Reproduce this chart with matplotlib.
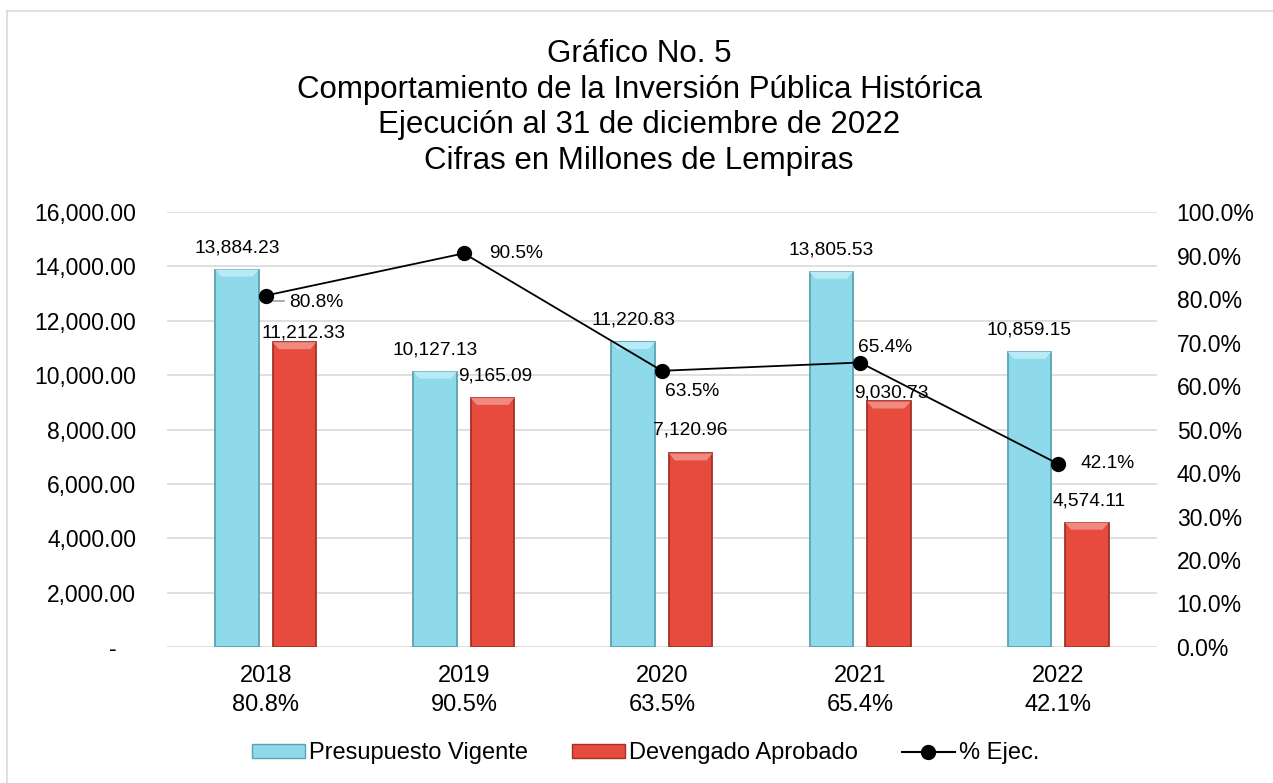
import matplotlib.pyplot as plt
import numpy as np
from matplotlib.lines import Line2D
from matplotlib.patches import Patch, Polygon

plt.rcParams['font.family'] = ['Liberation Sans', 'DejaVu Sans']

years = ['2018', '2019', '2020', '2021', '2022']
presupuesto = [13884.23, 10127.13, 11220.83, 13805.53, 10859.15]
devengado = [11212.33, 9165.09, 7120.96, 9030.73, 4574.11]
ejecucion = [0.808, 0.905, 0.635, 0.654, 0.421]

title = ('Gráfico No. 5\n'
         'Comportamiento de la Inversión Pública Histórica\n'
         'Ejecución al 31 de diciembre de 2022\n'
         'Cifras en Millones de Lempiras')

cyan = '#8ed9ea'
cyan_edge = '#5aa3b3'
cyan_light = '#b8ebf5'
red = '#e64b3e'
red_edge = '#a33127'
red_light = '#f08a80'


def money(v, pos=None):
    if v == 0:
        return '-   '
    return '{:,.2f}'.format(v)


def _draw_bars(ax, x, values, color, edge, light, px_x, px_y):
    bars = ax.bar(x, values, width=0.22, color=color, edgecolor=edge,
                  linewidth=1.3, zorder=3)
    # bevel cap on top of every bar, about 7 px deep
    for b in bars:
        x0, w, h = b.get_x(), b.get_width(), b.get_height()
        dx, dy = 6 * px_x, 7 * px_y
        cap = Polygon([(x0, h), (x0 + w, h), (x0 + w - dx, h - dy), (x0 + dx, h - dy)],
                      closed=True, facecolor=light, edgecolor='none', zorder=4)
        ax.add_patch(cap)
    return bars


fig = plt.figure(figsize=(12.73, 7.83), dpi=100)
ax = fig.add_axes([0.131, 0.1737, 0.778, 0.5555])
ax2 = ax.twinx()

x = np.arange(len(years))
ax.set_xlim(-0.5, len(years) - 0.5)
ax.set_ylim(0, 16000)
px_x = len(years) / (0.778 * 1273)
px_y = 16000 / (0.5555 * 783)
_draw_bars(ax, x - 0.145, presupuesto, cyan, cyan_edge, cyan_light, px_x, px_y)
_draw_bars(ax, x + 0.145, devengado, red, red_edge, red_light, px_x, px_y)

ax.set_yticks(np.arange(0, 16001, 2000))
ax.yaxis.set_major_formatter(plt.FuncFormatter(money))
ax.grid(axis='y', color='#d9d9d9', linewidth=1.2, zorder=0)
ax.set_axisbelow(True)
ax.set_xticks(x)
ax.set_xticklabels(['{}\n{:.1f}%'.format(y, p * 100)
                    for y, p in zip(years, ejecucion)],
                   fontsize=17, linespacing=1.4)
ax.tick_params(axis='y', labelsize=16.5, length=0, pad=22)
ax.tick_params(axis='x', length=0, pad=13)
for s in ax.spines.values():
    s.set_visible(False)

# value labels above bars (pixel offsets, Excel shifted a couple)
cyan_off = [22, 22, 22, 22, 22]
red_off = [9, 22, 23, 8, 22]
red_dx = [9, 3, 0, 3, 2]
for i in range(len(years)):
    ax.annotate('{:,.2f}'.format(presupuesto[i]), (x[i] - 0.145, presupuesto[i]),
                xytext=(0, cyan_off[i]), textcoords='offset pixels',
                ha='center', va='center', fontsize=13.8, zorder=5)
    ax.annotate('{:,.2f}'.format(devengado[i]), (x[i] + 0.145, devengado[i]),
                xytext=(red_dx[i], red_off[i]), textcoords='offset pixels',
                ha='center', va='center', fontsize=13.8, zorder=5)

ax2.set_ylim(0, 1)
ax2.set_yticks(np.arange(0, 1.01, 0.1))
ax2.yaxis.set_major_formatter(plt.FuncFormatter(lambda v, p: '{:.1f}%'.format(v * 100)))
ax2.tick_params(axis='y', labelsize=16.5, length=0, pad=14)
for s in ax2.spines.values():
    s.set_visible(False)
ax2.plot(x, ejecucion, color='black', linewidth=1.3, marker='o',
         markersize=10, zorder=6)

pct_off = [(23, -7), (25, 0), (3, -21), (-2, 15), (22, 0)]
for i, p in enumerate(ejecucion):
    ax2.annotate('{:.1f}%'.format(p * 100), (x[i], p),
                 xytext=pct_off[i], textcoords='offset pixels',
                 ha='left', va='center', fontsize=13.8, zorder=7)
ax2.plot([x[0] + 0.04, x[0] + 0.09], [ejecucion[0] - 0.012] * 2,
         color='#a6a6a6', linewidth=1.3)

fig.text(0.502, 0.863, title, ha='center', va='center', fontsize=22.5,
         linespacing=1.24)

handles = [Patch(facecolor=cyan, edgecolor=cyan_edge),
           Patch(facecolor=red, edgecolor=red_edge),
           Line2D([], [], color='black', marker='o', markersize=10)]
fig.legend(handles, ['Presupuesto Vigente', 'Devengado Aprobado', '% Ejec.'],
           loc='center', bbox_to_anchor=(0.507, 0.038), ncol=3, frameon=False,
           fontsize=17, handlelength=2.25, handleheight=0.5,
           handletextpad=0.18, columnspacing=1.85)

# border of the chart area (top and left only visible in source)
fig.add_artist(Line2D([0.0055, 1], [0.986, 0.986], color='#d9d9d9', linewidth=1.2))
fig.add_artist(Line2D([0.0055, 0.0055], [0, 0.986], color='#d9d9d9', linewidth=1.2))

fig.savefig('out.png', dpi=100)
